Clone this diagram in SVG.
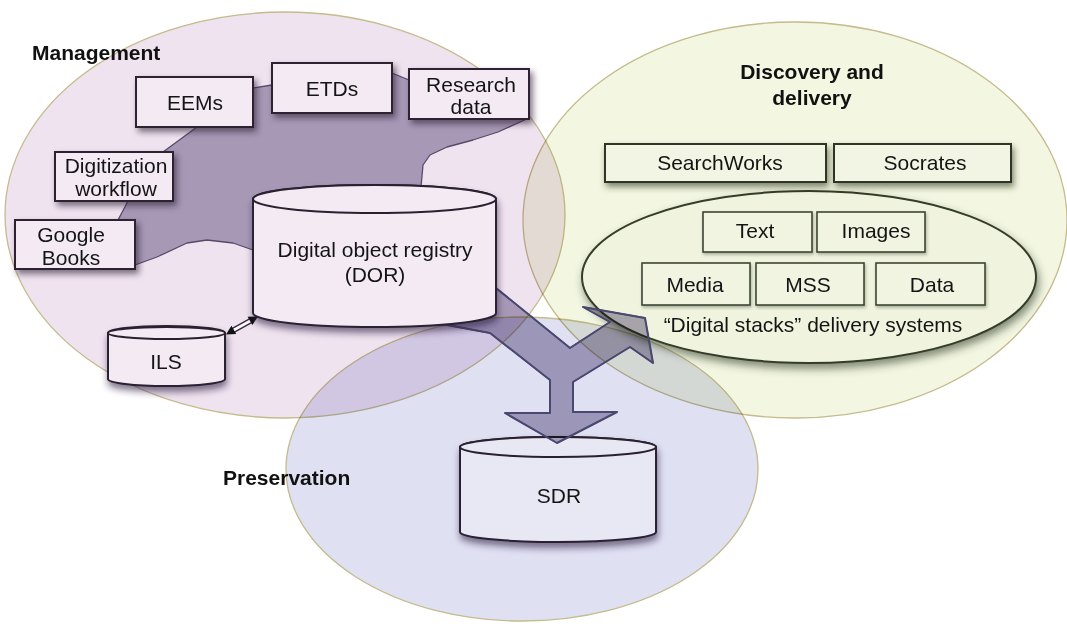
<svg xmlns="http://www.w3.org/2000/svg" width="1067" height="626" viewBox="0 0 1067 626">
  <style>
    .zone { stroke: #c5bb8c; stroke-width: 1.3; }
    .mult { mix-blend-mode: multiply; }
    .t { font-family: "Liberation Sans", Arial, sans-serif; font-size: 21px; fill: #141414; text-anchor: middle; }
    .h { font-family: "Liberation Sans", Arial, sans-serif; font-size: 21px; font-weight: bold; fill: #111; }
    .mbox { fill: #f4eaf4; stroke: #2e2233; stroke-width: 2; filter: url(#shadowM); }
    .cyl { fill: #f4eaf4; stroke: #2a2030; stroke-width: 2; }
    .dbox { fill: #f2f5e3; stroke: #2f3526; stroke-width: 2; filter: url(#shadowD); }
    .ibox { fill: #f1f4e1; stroke: #3e4534; stroke-width: 1.6; filter: url(#shadowI); }
  </style>
  <defs>
    <filter id="shadowM" x="-20%" y="-20%" width="150%" height="160%">
      <feDropShadow dx="3" dy="4" stdDeviation="3" flood-color="#2a1a35" flood-opacity="0.6"/>
    </filter>
    <filter id="shadowC" x="-20%" y="-20%" width="150%" height="160%">
      <feDropShadow dx="1" dy="5" stdDeviation="3.5" flood-color="#2a1a40" flood-opacity="0.6"/>
    </filter>
    <filter id="shadowD" x="-20%" y="-20%" width="150%" height="170%">
      <feDropShadow dx="2" dy="4" stdDeviation="3" flood-color="#2c3820" flood-opacity="0.6"/>
    </filter>
    <filter id="shadowI" x="-20%" y="-20%" width="150%" height="170%">
      <feDropShadow dx="1" dy="2" stdDeviation="1.5" flood-color="#2c3820" flood-opacity="0.35"/>
    </filter>
    <filter id="shadowB" x="-10%" y="-20%" width="125%" height="150%">
      <feDropShadow dx="2" dy="5" stdDeviation="4" flood-color="#34422a" flood-opacity="0.6"/>
    </filter>
  </defs>

  <rect width="1067" height="626" fill="#ffffff"/>

  <!-- Three domain regions -->
  <g id="zones">
    <ellipse id="management-zone" class="zone" cx="285" cy="215" rx="280" ry="203" fill="#efe3ef"/>
    <ellipse id="discovery-zone" class="zone mult" cx="795" cy="220" rx="272" ry="198" fill="#f3f6e1"/>
    <ellipse id="preservation-zone" class="zone mult" cx="522" cy="469" rx="236" ry="152" fill="#dfe0f2"/>
  </g>

  <!-- Digital stacks bubble with its delivery systems -->
  <g id="digital-stacks">
    <ellipse cx="809" cy="277" rx="227" ry="86" fill="#f0f4df" stroke="#353c2a" stroke-width="2" filter="url(#shadowB)"/>
    <text class="t" x="813" y="332">“Digital stacks” delivery systems</text>
  </g>

  <g id="sdr">
    <path class="cyl" style="fill:#e8e8f5" filter="url(#shadowC)" d="M460,447 V532 A98,10 0 0 0 656,532 V447 A98,10 0 0 0 460,447 Z"/>
    <ellipse cx="558" cy="447" rx="98" ry="10" fill="#e8e8f5" stroke="#2a2030" stroke-width="2"/>
    <text class="t" x="559" y="503">SDR</text>
  </g>

  <!-- Flow from the sources through DOR, forking to SDR and to delivery -->
  <g id="connectors">
    <path class="mult" fill="#b2acc2" stroke="#5e5270" stroke-width="1.3" stroke-linejoin="round"
      d="M100,240 L118,220 L128,201 L150,175 L163,152 L197,127 L220,100 L253,88 L272,85 L330,90 L392,73 L409,80 L470,100 L529,118
         L498,132 L473,140 L447,147 L430,155 L423,165 L421,187 L440,250 L496,288
         L570,348 L610,322 L583,307 L645,318 L653,363 L630,347 L573,382 L573,412 L617,412 L557,443 L505,413 L550,413 L550,380 L490,333 L447,325
         L380,320 L260,300 L253,250 L233,243 L207,240 L187,243 L157,257 L135,265 L110,262 Z"/>
    <path fill="none" stroke="#4a4870" stroke-width="2" stroke-linejoin="round"
      d="M496,288 L570,348 L610,322 L583,307 L645,318 L653,363 L630,347 L573,382 L573,412 L617,412 L557,443 L505,413 L550,413 L550,380 L490,333 L447,325"/>
    <!-- ILS <-> DOR link -->
    <line x1="233" y1="330.5" x2="251" y2="320.5" stroke="#3a2a40" stroke-width="5.5"/>
    <line x1="233" y1="330.5" x2="251" y2="320.5" stroke="#ffffff" stroke-width="2.6"/>
    <polygon points="258,316.5 252.4,325 247.6,316.8" fill="#111"/>
    <polygon points="226,334.5 236.2,334 231.4,325.8" fill="#111"/>
  </g>

  <!-- Management -->
  <text class="h" x="32" y="60">Management</text>

  <g id="dor">
    <path class="cyl" filter="url(#shadowC)" d="M253,199 V313 A121.5,14 0 0 0 496,313 V199 A121.5,14 0 0 0 253,199 Z"/>
    <ellipse cx="374.5" cy="199" rx="121.5" ry="14" fill="#f4eaf4" stroke="#2a2030" stroke-width="2"/>
    <text class="t" x="375" y="257">Digital object registry</text>
    <text class="t" x="375" y="282">(DOR)</text>
  </g>

  <g id="ils">
    <path class="cyl" filter="url(#shadowC)" d="M108,333 V379 A58.5,7 0 0 0 225,379 V333 A58.5,7 0 0 0 108,333 Z"/>
    <ellipse cx="166.5" cy="333" rx="58.5" ry="6" fill="#f4eaf4" stroke="#2a2030" stroke-width="2"/>
    <text class="t" x="166" y="369">ILS</text>
  </g>

  <g id="eems">
    <rect class="mbox" x="136" y="77" width="117" height="50"/>
    <text class="t" x="195" y="110">EEMs</text>
  </g>
  <g id="etds">
    <rect class="mbox" x="272" y="63" width="120" height="50"/>
    <text class="t" x="332" y="96">ETDs</text>
  </g>
  <g id="research-data">
    <rect class="mbox" x="409" y="69" width="120" height="50"/>
    <text class="t" x="471" y="92">Research</text>
    <text class="t" x="471" y="114">data</text>
  </g>
  <g id="digitization-workflow">
    <rect class="mbox" x="55" y="152" width="118" height="49"/>
    <text class="t" x="116" y="173">Digitization</text>
    <text class="t" x="116" y="196">workflow</text>
  </g>
  <g id="google-books">
    <rect class="mbox" x="15" y="220" width="120" height="49"/>
    <text class="t" x="71" y="242">Google</text>
    <text class="t" x="71" y="265">Books</text>
  </g>

  <!-- Discovery and delivery -->
  <text class="h" x="812" y="79" text-anchor="middle">Discovery and</text>
  <text class="h" x="812" y="105" text-anchor="middle">delivery</text>

  <g id="searchworks">
    <rect class="dbox" x="605" y="144" width="221" height="38"/>
    <text class="t" x="720" y="170">SearchWorks</text>
  </g>
  <g id="socrates">
    <rect class="dbox" x="834" y="144" width="177" height="38"/>
    <text class="t" x="925" y="170">Socrates</text>
  </g>
  <g id="text">
    <rect class="ibox" x="703" y="212" width="109" height="40"/>
    <text class="t" x="755" y="238">Text</text>
  </g>
  <g id="images">
    <rect class="ibox" x="817" y="212" width="108" height="40"/>
    <text class="t" x="876" y="238">Images</text>
  </g>
  <g id="media">
    <rect class="ibox" x="642" y="263" width="108" height="42"/>
    <text class="t" x="695" y="292">Media</text>
  </g>
  <g id="mss">
    <rect class="ibox" x="756" y="263" width="108" height="42"/>
    <text class="t" x="808" y="292">MSS</text>
  </g>
  <g id="data">
    <rect class="ibox" x="876" y="263" width="109" height="42"/>
    <text class="t" x="932" y="292">Data</text>
  </g>

  <!-- Preservation -->
  <text class="h" x="223" y="485">Preservation</text>
</svg>
